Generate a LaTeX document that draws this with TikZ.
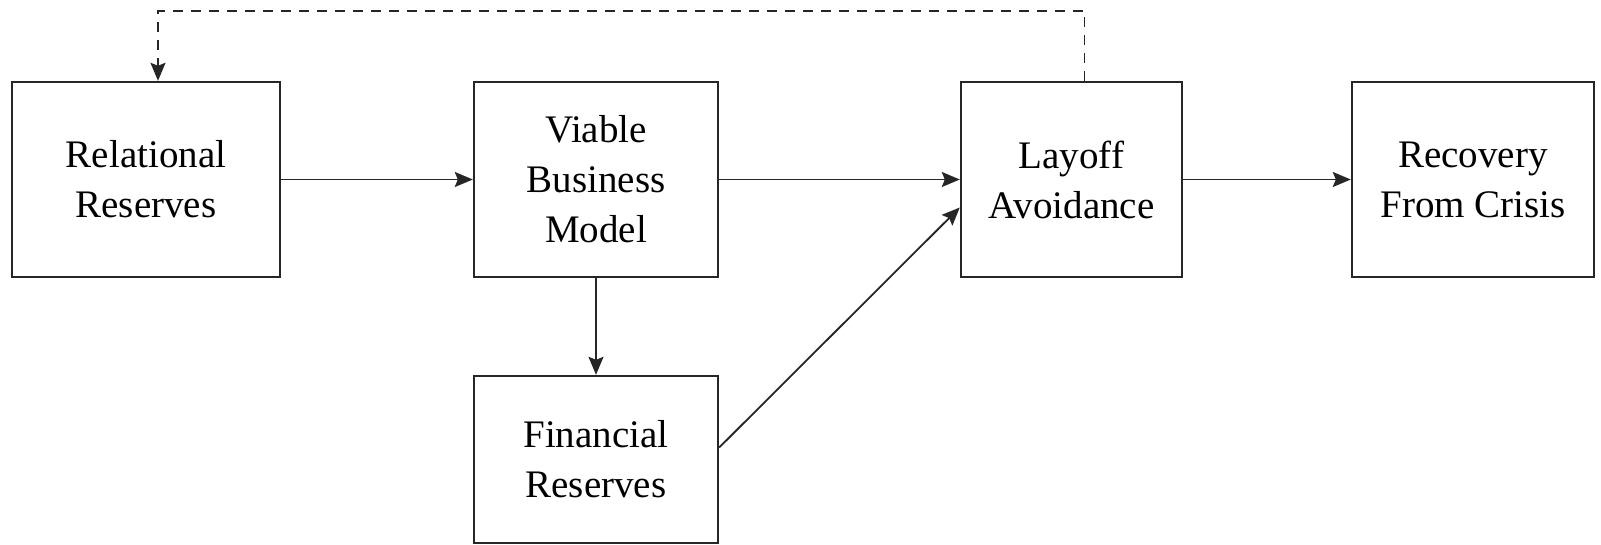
\documentclass[tikz,border=0pt]{standalone}
\usepackage{fontspec}
\setmainfont{Liberation Serif}
\usetikzlibrary{arrows.meta,positioning}

\tikzset{
  box/.style={draw=black!85, line width=1.2pt, align=center, minimum height=97.5pt,
    inner sep=2pt, font=\fontsize{19.5}{25}\selectfont},
  link/.style={draw=black!85, line width=0.9pt, -{Stealth[length=9pt,width=7.5pt,inset=1.5pt]}},
  feedback/.style={link, dash pattern=on 5pt off 4pt}
}

\begin{document}
\begin{tikzpicture}[x=0.5pt,y=-0.5pt]
  \useasboundingbox (0,0) rectangle (1601,545);

  %top row
  \foreach \cx/\bw/\txt/\name in {146/134pt/{Relational\\Reserves}/rel,
      596/122pt/{Viable\\Business\\Model}/via,
      1071.5/110.5pt/{Layoff\\Avoidance}/lay,
      1473/121pt/{Recovery\\From Crisis}/rec}{
    \node[box, minimum width=\bw] (\name) at (\cx,179.5) {\txt};
  }

  %bottom box
  \node[box, minimum width=122pt, minimum height=83.5pt] (fin) at (596,459.5) {Financial\\Reserves};

  %arrows
  \draw[link] (rel) -- (via);
  \draw[link] (via) -- (lay);
  \draw[link] (lay) -- (rec);
  \draw[link] (via) -- (fin);
  \draw[link] ([yshift=6pt]fin.east) -- ([yshift=-14pt]lay.west);

  %feedback loop
  \draw[feedback] ([xshift=6.5pt]lay.north) -- ++(0,35pt) -| ([xshift=6pt]rel.north);

\end{tikzpicture}
\end{document}
